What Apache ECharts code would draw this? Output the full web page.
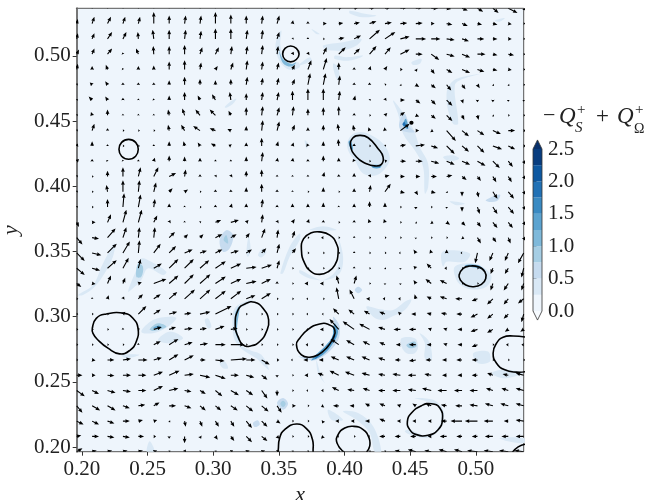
<!DOCTYPE html>
<html><head><meta charset="utf-8">
<style>html,body{margin:0;padding:0;background:#fff}#c{width:649px;height:500px}</style>
<script src="https://cdn.jsdelivr.net/npm/echarts@6/dist/echarts.min.js"></script>
</head><body><div id="c"></div>
<script>
const xDomain=[0.196,0.5365], yDomain=[0.1964,0.5365];
const xTicks=[0.20,0.25,0.30,0.35,0.40,0.45,0.50];
const yTicks=[0.20,0.25,0.30,0.35,0.40,0.45,0.50];
const cbarTicks=[0,0.5,1,1.5,2,2.5];
const cbarLevels=[0,0.25,0.5,0.75,1,1.25,1.5,1.75,2,2.25,2.5];
const bandColors=['#eef5fc','#d9e8f5','#c6dbef','#a6cee4','#7fb9da','#5ba3d0','#3a8ac2','#2171b5','#0d58a1','#083d7f'];
const underColor='#f7fbff', overColor='#08306b';
const quiverScale=1.15;

// velocity samples, row by row from the top: u,v pairs for 30 columns
const r00=[1,6, 1,6, 1,6, 1,6, 1,6, 0,7, 0,7, 1,7, 1,7, 0,8, 0,8, 0,7, 1,7, 2,7, 0,3, 2,3, 3,1, 3,1, 4,1, 5,1, 5,1, 6,1, 6,1, 6,0, 4,-.5, 5,-2, 5,-3, 5,-4, 8,-4, 3,-2];
const r01=[1,4, 2,6, 3,6, 2,6, 1.5,6, 0,10, 0,7, 1,7, 1,7, 0,10, 0,8, 0,7, 1,7, 2,7, .5,3, 0,2, 3,0, 4,.5, 5,1, 6,2, 6,1, 6,.5, 6,.5, 3,0, 5,-1, 5,-2, 4,-1, 4,-1, 3,-.5, 1,0];
const r02=[1,5, 2,5, 4,6, 3,6, -.5,6, -1,8, 0,8, 1,8, 1,7, 0,9, 0,9, 1,8, 1,8, 2,6, 1,1, 0,1, .5,0, 5,1, 6,3, 9,8, 9,6, 8,2, 9,0, 8,0, 7,-1, 6,-2, 6,0, 4,0, 3,0, 1,0];
const r03=[2,4, 2,5, 4,5, -.5,1.5, -2,5, -.5,7, 0,7, 0,8, 2,6, 3,6, 1,7, 1,7, 1,8, 1,7, 1,2, 1,2, 3,6, 6,6, 5,5, 6,7, 5,6, 8,4, 6,0, 7,-5, 7,-2, 7,-3, 7,0, 4,-1, 5,-1, 1,0];
const r04=[1,5, 0,3, -1.5,4, -.5,1, 0,3, 0,3.5, 0,7, 0,8, 1,6, 2,3, 2,6, 1,8, 1,7, 1.5,6, 2,4, 3,8, 3,10, 0,6, 0,2, 1,3, 2,3, 2,0, 1,-2, 3,-4, 5,-3, 7,-3, 6,-2, 4,-1, 3,-.5, 1,0];
const r05=[.5,.5, -2,2, -2,3, 0,2, 0,2, 0,2, 0,4, 0,7, 0,5, 0,4, 0,5, 1,7, 1,6, 1.5,6, 2,5, 2,10, 2,10, 1,8, 0,2, 0,2, 1,.5, 1,-1, 3,-2, 4,-3, 4,-5, 3,-4, 2,-3, .5,-.5, .5,-.5, .5,0];
const r06=[.5,.5, -3,3, -2,3, 0,2, 0,1, -.5,1, 0,4, 0,7, -2,4, -3,5, -1,7, 0,6, 1,7, 1.5,7, 0,8, 0,10, 0,10, 1,8, 1,4, 1,1, 1,2, 4,0, 4,-3, 4,-4, 5,-5, 1,-3, 0,-2, 0,-2, 0,-1.5, 0,-1];
const r07=[.5,.5, -1,3, 0,5, 0,1, 0,1, 0,1, -1,5, -2,6, -4,5, -5,5, -2,4, 0,7, 1,8, 2,7, 1,8, 0,6, 0,7, 0,8, 0,2, 1,0, 2,2, 4,3, 3,-1, 4,-3, 5,-5, 2,-4, 1,-4, 1,-1, 1,0, 1,0];
const r08=[.5,.5, 2,6, 0,2, .5,0, .5,0, .5,0, -1,5, -3,5, -6,4, -5,2, -3,1.5, 0,4, 1,9, 2,8, 2,5, 0,3, 0,5, -1,6, -1,5, -1,3, -.5,3, 8,6, 3,0, 2,-1, 8,-9, 6,-5, 6,-4, 7,-3, 6,0, 2,0];
const r09=[1,2, 0,4, 0,1, .5,0, .5,0, 0,1, 0,4, -1,4, -2,3, -4,2, -2,1, 0,3, 0,7, 1,4, 1,3, -1,2, 0,4, -.5,6, 0,2, .5,0, 1,1, 5,1, 8,1, 6,-2, 7,-7, 6,-5, 6,-6, 8,-3, 6,-3, 2,0];
const r10=[2,2, 0,2, -1,1, -.3,1, 0,1, 1,3, 0,5, 0,4, 0,3, 0,1, 0,1, 0,4, 1,8, .5,3, .5,3, 0,2, 0,5, 0,3, -1,2, .5,0, 2,.5, 5,0, 6,0, 7,-2, 7,-3, 7,-3, 7,-4, 6,-6, 4,-5, 2,-3];
const r11=[.5,.5, .5,0, 0,5, 0,8, 2,8, 4,8, 6,3, 1,6, 0,2, 1,1.5, 1,2, 0,5, 0,6, 0,1.5, 0,1, 0,1.5, 1,4, 0,2, 0,3, 1,2, 4,1, 4,0, 4,0, 5,0, 5,1, 4,-3, 3,-4, 3,-5, 3,-5, 2,-3];
const r12=[.5,.5, .5,0, -1,6, 0,10, 1,10, 2,8, 3,3, 3,2, .5,0, 0,2, 0,2, 0,4, 0,7, 0,2, 0,1, .5,0, 0,4, .5,0, 0,3, 1,6, 5,7, 4,-1, 2,-3, 4,-1, 1,-1, 0,-4, 1,-5, 4,-6, 5,-6, 2,-3];
const r13=[.5,.5, .5,0, 0,7, 1,12, 2,11, 1,7, 0,3, 0,1, .5,0, 0,2, 1,3, 0,3, 1,7, 0,2, 0,3, 0,3, 0,4, 0,1, 0,3, 0,5, 0,4, .5,0, 0,-2, .5,0, 0,-1, 0,-4, 2,-6, 4,-6, 5,-6, 2,-3];
const r14=[2,-4, 3,0, 3,7, 3,11, 3,11, 3,6, 1,2, 0,1, 1,1, 5,2, 7,2, 2,2, 1,7, 1,2, 2,3, 1,3, 0,2, .5,0, 0,2, -1,3, -1,3, .5,0, 1,-1, 2,-1, 3,-2, 3,-3, 3,-4, 4,-5, 4,-5, 2,-3];
const r15=[5,-6, 6,-1, 7,8, 3,9, 1,9, 1,9, 5,5, 3,3, 3,3, 6,3, 5,3, 3,4, 3,8, 1,7, 2,6, .5,0, -2,0, .5,0, 0,1, .5,0, .5,0, .5,0, 0,-1, .5,0, .5,0, 2,-1, 3,-5, 3,-4, 2,-5, 2,-3];
const r16=[7,-7, 8,-2, 8,8, 6,10, 1,11, 6,8, 6,6, 7,3, 6,2, 6,3, 7,2, 5,3, 4,4, 2,8, 3,4, .5,0, .5,0, .5,0, 0,.5, 1,0, .5,0, -1,0, -2,3, -1,3, 0,3, -1,0, -2,-9, -3,-7, -3,-7, -5,-9];
const r17=[7,-6, 7,-2, 8,7, 5,9, 2,8, 7,4, 8,8, 8,8, 8,7, 9,6, 9,4, 9,1, 9,3, 2,7, 1,0, .5,0, .5,0, .5,0, 0,1.5, 1,0, 1,-1, 0,-1, -2,2, -4,4, -2,0, .5,0, .5,0, -2,-5, -3,-5, -2,-8];
const r18=[4,-3, 3,-.5, 3,7, 2,5, 3,1, 11,4, 8,7, 8,8, 9,8, 9,6, 9,4, 9,2, 8,4, 0,2, 1,0, -3,0, -3,0, -2,7, 2,7, .5,0, 0,-1, 0,-1, -2,3, -5,4, -6,3, .5,0, .5,0, -2,-6, -4,-6, -2,-6];
const r19=[.5,0, 0,1, 1,3, 1,2, 4,4, 6,4, 7,6, 9,8, 9,8, 9,7, 9,7, 8,3, 8,5, .5,0, .5,0, -1,0, .5,0, -2,10, -4,8, -3,0, -2,0, -2,0, -1,4, -4,2, -6,2, -6,0, -5,-2, -5,-5, -4,-5, -5,-4];
const r20=[.5,0, 1,0, .5,0, 2,2, 7,7, 6,4, 7,2, 6,1, 9,2, 14,7, .5,0, .5,0, .5,0, .5,0, .5,0, -1,0, -1,0, -5,5, -5,4, -5,3, -5,2, -2,2, -4,0, -4,1, -5,1, -5,0, -6,-3, -5,-4, -4,-4, -2,-7];
const r21=[.5,0, .5,0, .5,0, 0,1, 1,1, 7,2, 6,2, 7,1, 6,1, 8,3, 6,1, .5,0, .5,0, .5,0, .5,0, -1,0, -3,0, -8,9, -10,7, -9,5, -6,2, -6,0, -6,0, -3,1, -3,1, -4,0, -6,-2, -5,-3, -3,-2, -3,-2];
const r22=[.5,0, .5,0, .5,0, .5,0, 0,.5, 6,3, 8,5, 7,2, 7,1, 9,0, 12,0, .5,0, .5,0, .5,0, .5,0, -2,0, -2,0, -7,5, -7,4, -6,3, -5,2, -4,0, -6,0, -4,0, -3,1, -4,0, -5,-2, .5,0, -2,0, -2,0];
const r23=[.5,0, 3,-.5, 6,0, 7,1, 8,0, 7,2, 8,5, 8,4, 5,0, 8,-1, 14,1, 8,0, 7,-4, 2,0, -1,0, -4,0, -4,0, -7,3, -7,3, -7,3, -6,2, -5,0, -6,-1, -5,0, -4,0, -5,0, -5,0, .5,0, .5,0, .5,0];
const r24=[5,0, 3,0, 6,-.5, 7,0, 7,0, 8,3, 9,4, 8,1, 9,-2, 9,-3, 7,0, 7,-2, 5,-4, 0,-2, 1,0, -3,0, -5,2, -8,4, -8,3, -7,2, -6,1, -7,1, -7,0, -6,1, -4,0, -4,0, -5,0, -5,2, -5,1, -7,2];
const r25=[7,-5, 6,-3, 7,-2, 7,-1, 7,0, 8,4, 8,2, 6,-1, 5,-3, 6,-5, 7,-4, 6,-4, 5,-7, 0,-5, .5,0, -1,0, -2,0, -6,3, -6,1, -6,2, -6,0, -7,0, -7,1, -8,2, -8,0, -7,0, -7,0, -6,2, -6,2, -7,2];
const r26=[5,-6, 7,-4, 7,-4, 6,-2, 6,1, 5,3, 6,0, 6,-2, 5,-4, 5,-4, 6,-4, 6,-5, 6,-5, 4,-6, 3,0, .5,0, -2,-1, -5,0, -4,0, -4,2, -5,2, -3,1, -3,2, -5,2, -5,1, -6,0, -7,1, -7,2, -7,2, -7,2];
const r27=[6,-3, 6,-3, 6,-2, 6,0, 4,1, 3,1, 1,-1, 1,-5, 2,-5, 3,-5, 3,-5, 5,-6, 5,-5, 3,-2, 1,0, .5,0, -1,-2, -3,0, -3,0, -4,0, -5,2, -3,0, -3,0, -3,0, -5,0, -10,0, -11,0, -8,0, -4,0, -7,1];
const r28=[4,1, 6,0, 6,-1, 6,-1, 5,0, 2,0, 0,-2, 0,-6, 1,-2, 2,-3, 3,-4, 5,-5, 5,-4, 2,-2, 1,0, .5,0, -2,-2, -1,0, .5,0, -1,0, -5,0, -5,0, -5,0, -3,0, -6,0, -5,0, -5,0, -7,0, -6,0, -7,0];
const r29=[5,3, 4,1, 4,1, 4,1, 4,1, 3,1, 1,1, 1,2, 1,1, 1,1, 2,1, 3,1, 3,1, 2,1, 1,1, 1,1, 1,1, 1,1, 1,1, 1,1, 1,1, -5,1, -7,2, -6,1, -7,2, -7,2, -9,1, -8,1, -8,1, -8,1];
const velocityRows=[r00,r01,r02,r03,r04,r05,r06,r07,r08,r09,r10,r11,r12,r13,r14,r15,r16,r17,r18,r19,r20,r21,r22,r23,r24,r25,r26,r27,r28,r29];

// Q-criterion zero contours: [closed, x values, y values]
const contourA=[1,[.2356,.2409,.2429,.2409,.2356,.2302,.2282,.2302],[.4360,.4337,.4283,.4230,.4207,.4230,.4283,.4337]];
const contourB=[1,[.3590,.3633,.3654,.3633,.3590,.3547,.3529,.3547],[.5076,.5058,.5015,.4972,.4954,.4972,.5015,.5058]];
const contourC=[1,[.4045,.4065,.4116,.4180,.4256,.4294,.4281,.4231,.4167,.4091],[.4314,.4372,.4390,.4372,.4288,.4224,.4168,.4156,.4173,.4224]];
const contourD=[1,[.3672,.3689,.3748,.3811,.3888,.3938,.3951,.3926,.3875,.3811,.3748,.3697],[.3510,.3599,.3643,.3650,.3625,.3561,.3485,.3395,.3344,.3324,.3344,.3408]];
const contourE=[1,[.4873,.4904,.4955,.5018,.5069,.5076,.5043,.4980,.4924,.4883],[.3319,.3370,.3388,.3382,.3344,.3293,.3247,.3229,.3242,.3280]];
const contourF=[1,[.3659,.3723,.3811,.3875,.3926,.3913,.3862,.3799,.3735,.3672,.3634],[.2834,.2903,.2944,.2941,.2898,.2834,.2758,.2707,.2689,.2707,.2783]];
const contourG=[1,[.3168,.3189,.3252,.3316,.3379,.3422,.3405,.3354,.3290,.3227,.3189],[.2923,.3051,.3102,.3110,.3064,.2975,.2885,.2809,.2776,.2783,.2847]];
const contourH=[1,[.2079,.2109,.2185,.2325,.2389,.2427,.2414,.2363,.2287,.2198,.2122,.2084],[.2911,.2987,.3020,.3025,.2987,.2911,.2809,.2740,.2714,.2758,.2821,.2872]];
const contourI=[1,[.4479,.4510,.4586,.4662,.4726,.4746,.4713,.4637,.4548,.4497],[.2197,.2261,.2317,.2332,.2299,.2210,.2133,.2090,.2095,.2133]];
const contourJ=[0,[.3480,.3494,.3506,.3544,.3633,.3710,.3756,.3761,.3765],[.1900,.1967,.2069,.2133,.2176,.2141,.2057,.1960,.1900]];
const contourK=[0,[.3997,.3943,.3951,.4002,.4065,.4142,.4187,.4192,.4167],[.1960,.2031,.2095,.2146,.2159,.2133,.2069,.2006,.1960]];
const contourL=[0,[.5386,.5285,.5208,.5158,.5132,.5158,.5221,.5310,.5386],[.2842,.2852,.2842,.2796,.2720,.2643,.2592,.2574,.2579]];
const contourM=[0,[.5272,.5323,.5386],[.1950,.2001,.2023]];
const contourN=[1,[.4510,.4520,.4510,.4500],[.4497,.4487,.4477,.4487]];
const contours=[contourA,contourB,contourC,contourD,contourE,contourF,contourG,contourH,contourI,contourJ,contourK,contourL,contourM,contourN];

// filled regions of -Q_S+Q_Omega: [band index, x values, y values]
const patches=[
[1,[.3476,.3486,.3519,.3511,.3532,.3582,.3646,.3659,.3582,.3519],[.5041,.5143,.5194,.5092,.5002,.4939,.4951,.4913,.4893,.4939]],
[4,[.3501,.3532,.3595,.3633,.3595,.3532],[.5041,.4977,.4939,.4951,.4918,.4944]],
[1,[.3087,.3125,.3176,.3151,.3100],[.4607,.4645,.4671,.4633,.4602]],
[1,[.4040,.4167,.4243,.4142,.4040],[.5347,.5321,.5308,.5296,.5326]],
[1,[.3748,.3811,.3786],[.5206,.5168,.5168]],
[1,[.3837,.3989,.4129,.4091,.3989,.3913,.3850],[.5079,.5104,.5130,.5079,.5041,.5041,.5053]],
[1,[.3926,.4015,.4142,.4040,.3926],[.5002,.4990,.5002,.4964,.4977]],
[1,[.3913,.3951,.3959,.3933],[.4939,.4913,.4811,.4837]],
[1,[.3659,.3735,.3748,.3659],[.4939,.4990,.4964,.4926]],
[1,[.4510,.4586,.4573,.4523],[.4951,.4977,.4939,.4931]],
[1,[.4789,.4853,.5031,.4904,.4840,.4866,.4827,.4789,.4777],[.4760,.4824,.4862,.4824,.4773,.4480,.4480,.4582,.4683]],
[1,[.4370,.4434,.4523,.4573,.4637,.4637,.4612,.4599,.4535,.4446,.4408],[.4658,.4582,.4441,.4301,.4173,.3995,.3944,.4148,.4276,.4403,.4556]],
[2,[.4421,.4459,.4497,.4535,.4472,.4421],[.4505,.4556,.4454,.4416,.4416,.4441]],
[5,[.4446,.4467,.4485],[.4467,.4518,.4441]],
[7,[.4441,.4457,.4467],[.4474,.4492,.4459]],
[1,[.4751,.4827,.4873,.4802],[.4224,.4237,.4212,.4191]],
[1,[.4802,.4916,.4853],[.3885,.3868,.3855]],
[2,[.5076,.5183,.5170,.5107],[.3893,.3936,.3893,.3880]],
[1,[.5145,.5221,.5183],[.5270,.5290,.5262]],
[1,[.4027,.4078,.4167,.4294,.4345,.4319,.4243,.4142,.4078,.4027],[.4352,.4408,.4408,.4326,.4224,.4148,.4084,.4097,.4199,.4276]],
[5,[.4030,.4045,.4065,.4053],[.4339,.4352,.4288,.4276]],
[5,[.4205,.4281,.4269,.4218],[.4161,.4161,.4140,.4140]],
[1,[.3697,.3723,.3710],[.4352,.4326,.4288]],
[1,[.3735,.3837,.3938],[.3664,.3694,.3664]],
[1,[.1970,.2084,.2160,.2249,.2236,.2173,.2097,.2008],[.3166,.3242,.3408,.3561,.3459,.3332,.3230,.3166]],
[1,[.2351,.2414,.2452,.2528,.2643,.2617,.2503,.2452,.2389],[.3191,.3357,.3446,.3421,.3344,.3319,.3370,.3281,.3217]],
[3,[.2414,.2427,.2465,.2452],[.3306,.3408,.3383,.3306]],
[1,[.2452,.2541,.2668,.2719,.2655,.2541],[.2885,.2975,.3000,.2987,.2923,.2873]],
[3,[.2516,.2579,.2643,.2541],[.2903,.2949,.2923,.2890]],
[5,[.2541,.2579,.2605],[.2911,.2931,.2918]],
[1,[.2579,.2668,.2770,.2668],[.2821,.2885,.2834,.2796]],
[2,[.3049,.3100,.3151,.3125,.3074],[.3587,.3663,.3625,.3523,.3497]],
[3,[.3079,.3100,.3113],[.3587,.3625,.3561]],
[1,[.3252,.3270,.3285,.3265],[.3485,.3612,.3510,.3459]],
[1,[.3341,.3379,.3405,.3367],[.3472,.3523,.3497,.3454]],
[1,[.3511,.3582,.3659,.3659,.3582,.3532],[.3332,.3536,.3638,.3587,.3459,.3332]],
[1,[.2935,.2960,.2986,.2960],[.2975,.2987,.2923,.2911]],
[1,[.3163,.3240,.3303,.3252,.3189,.3176,.3214,.3278,.3367,.3425,.3392,.3328,.3227,.3163,.3146],[.3064,.3115,.3128,.3089,.3051,.2898,.2783,.2745,.2707,.2592,.2617,.2681,.2745,.2821,.2949]],
[4,[.3168,.3201,.3181,.3201,.3171],[.3026,.3077,.2898,.2809,.2873]],
[1,[.2300,.2439,.2338],[.2707,.2707,.2681]],
[1,[.3049,.3087,.3113,.3074],[.2643,.2656,.2605,.2605]],
[2,[.3486,.3532,.3570,.3532],[.2337,.2375,.2332,.2286]],
[3,[.3511,.3532,.3552,.3532],[.2332,.2355,.2332,.2306]],
[2,[.3303,.3341,.3354,.3316],[.2184,.2204,.2171,.2153]],
[1,[.2495,.2516,.2554],[.1960,.2044,.1960]],
[1,[.3659,.3735,.3837,.3938,.3964,.3951,.3989,.3964,.3862,.3735,.3659],[.3357,.3319,.3281,.3357,.3497,.3612,.3459,.3332,.3281,.3293,.3332]],
[2,[.4078,.4104,.4134,.4104],[.3204,.3230,.3204,.3179]],
[1,[.4167,.4269,.4370,.4472,.4510,.4459,.4370,.4294,.4218],[.3077,.3056,.3051,.3122,.3128,.3051,.3005,.2975,.3000]],
[1,[.4434,.4535,.4561,.4535,.4472,.4434],[.2834,.2834,.2771,.2720,.2720,.2771]],
[3,[.4472,.4535,.4548,.4497],[.2783,.2809,.2771,.2758]],
[1,[.4573,.4637,.4662,.4662,.4612,.4612],[.2873,.2821,.2745,.2668,.2681,.2796]],
[1,[.4738,.4789,.4955,.4916,.4777,.4751],[.3485,.3510,.3485,.3421,.3421,.3383]],
[1,[.4840,.4980,.5069,.5120,.5081,.4980,.4904,.4853],[.3383,.3408,.3370,.3306,.3230,.3209,.3230,.3281]],
[5,[.4916,.5018,.5069,.5031,.4955],[.3395,.3395,.3357,.3370,.3383]],
[1,[.4980,.5094,.5107,.5018],[.2720,.2732,.2656,.2643]],
[1,[.4535,.4675,.4751,.4751,.4700,.4624,.4497,.4459,.4497,.4624,.4713,.4738,.4713,.4624],[.2375,.2362,.2286,.2184,.2108,.2069,.2095,.2120,.2133,.2087,.2146,.2235,.2311,.2350]],
[1,[.3875,.3989,.3900],[.2286,.2210,.2210]],
[1,[.3989,.4104,.4218,.4281,.4231,.4192,.4091],[.2273,.2261,.2159,.1960,.1960,.2108,.2210]],
[1,[.5120,.5208,.5361,.5234,.5158],[.2567,.2592,.2567,.2528,.2541]],
[1,[.5183,.5366,.5366,.5246],[.2069,.2069,.2031,.2044]],
[2,[.3646,.3786,.3938,.3964,.3913,.3926,.3913,.3837,.3761],[.2694,.2668,.2796,.2923,.3000,.2923,.2847,.2745,.2694]],
[5,[.3926,.3951,.3913,.3837,.3748,.3773,.3850,.3908,.3913],[.2949,.2885,.2796,.2707,.2663,.2699,.2771,.2847,.2911]],
[7,[.3900,.3921,.3931,.3900],[.2821,.2873,.2847,.2796]],
[7,[.3773,.3837,.3786],[.2681,.2732,.2681]],
[1,[.3786,.3824,.3850,.3799],[.2668,.2541,.2490,.2566]]
];

const SERIF='"Liberation Serif","DejaVu Serif",serif';
const TXT='#222';
const nCols=30,nRows=30;
const arrowData=[];
velocityRows.forEach((row,r)=>{
  for(let c=0;c<nCols;c++){
    const x=xDomain[0]+c*(xDomain[1]-xDomain[0])/(nCols-1);
    const y=yDomain[1]-r*(yDomain[1]-yDomain[0])/(nRows-1);
    arrowData.push([x,y,row[2*c],row[2*c+1]]);
  }
});

function renderArrow(p,api){
  const t=api.coord([api.value(0),api.value(1)]);
  const u=api.value(2)*quiverScale,v=api.value(3)*quiverScale;
  let L=Math.hypot(u,v);
  const ca=u/L, sa=-v/L;
  L=Math.max(L,1.6);
  const hl=Math.min(4.2,L), hw=1.9*Math.min(1,L/3.5+0.25), w=0.55;
  const local=[[0,-w],[L-hl,-w],[L-hl*1.08,-hw],[L,0],[L-hl*1.08,hw],[L-hl,w],[0,w]];
  return {type:'polygon',silent:true,
    shape:{points:local.map(q=>[t[0]+q[0]*ca-q[1]*sa,t[1]+q[0]*sa+q[1]*ca])},
    style:{fill:'#000'}};
}
function renderPatch(p,api){
  const b=patches[api.value(0)];
  return {type:'polygon',silent:true,
    shape:{points:b[1].map((x,i)=>api.coord([x,b[2][i]])),smooth:0.35},
    style:{fill:bandColors[b[0]]}};
}
function renderContour(p,api){
  const b=contours[api.value(0)];
  const tiny=Math.max(...b[1])-Math.min(...b[1])<0.004;
  return {type:b[0]?'polygon':'polyline',silent:true,
    shape:{points:b[1].map((x,i)=>api.coord([x,b[2][i]])),smooth:0.5},
    style:{fill:tiny?'#000':'none',stroke:'#000',lineWidth:1.6}};
}
function renderBand(p,api){
  const i=api.value(0);
  const a=api.coord([0,cbarLevels[i+1]]),b=api.coord([1,cbarLevels[i]]);
  return {type:'rect',silent:true,shape:{x:a[0],y:a[1],width:b[0]-a[0],height:b[1]-a[1]},style:{fill:bandColors[i]}};
}
const cbarExt=0.14;
function renderEnds(p,api){
  const lo=cbarLevels[0],hi=cbarLevels[cbarLevels.length-1];
  const c=(x,y)=>api.coord([x,y]);
  return {type:'group',silent:true,children:[
    {type:'polygon',shape:{points:[c(0,hi),c(.5,hi+cbarExt),c(1,hi)]},style:{fill:overColor}},
    {type:'polygon',shape:{points:[c(0,lo),c(.5,lo-cbarExt),c(1,lo)]},style:{fill:underColor}},
    {type:'polygon',shape:{points:[c(0,lo),c(.5,lo-cbarExt),c(1,lo),c(1,hi),c(.5,hi+cbarExt),c(0,hi)]},style:{fill:'none',stroke:'#333',lineWidth:0.8}}
  ]};
}
const mathFont=s=>'italic '+s+'px '+SERIF;
const romanFont=s=>s+'px '+SERIF;
const titleParts=[
 ['\u2212',543,127,romanFont(22)],['Q',559,128,mathFont(23)],['+',577,118,romanFont(15)],['S',575,136,mathFont(15)],
 ['+',596,128,romanFont(23)],['Q',617,128,mathFont(23)],['+',635,118,romanFont(15)],['\u03A9',634,136,romanFont(14)]
];
const chart=echarts.init(document.getElementById('c'),null,{renderer:'canvas'});
chart.setOption({
  animation:false,backgroundColor:'#fff',
  grid:[
    {outerBoundsMode:'none',left:76.7,top:8.3,width:447,height:443.4,show:true,backgroundColor:bandColors[0],borderColor:'#555',borderWidth:1},
    {outerBoundsMode:'none',left:533,top:149,width:9,height:162,show:false}
  ],
  xAxis:[
    {type:'value',gridIndex:0,min:xDomain[0],max:xDomain[1],splitLine:{show:false},axisLine:{show:false},
     axisTick:{show:true,length:4,customValues:xTicks,lineStyle:{color:'#333',width:1}},
     axisLabel:{customValues:xTicks,margin:7,fontFamily:SERIF,fontSize:21,color:TXT,formatter:v=>v.toFixed(2)},
     name:'x',nameLocation:'middle',nameGap:33,nameTextStyle:{fontFamily:SERIF,fontStyle:'italic',fontSize:22,color:TXT}},
    {type:'value',gridIndex:1,min:0,max:1,show:false}
  ],
  yAxis:[
    {type:'value',gridIndex:0,min:yDomain[0],max:yDomain[1],splitLine:{show:false},
     axisLine:{show:true,onZero:false,lineStyle:{color:'#777',width:2}},
     axisTick:{show:true,length:4,customValues:yTicks,lineStyle:{color:'#333',width:1}},
     axisLabel:{customValues:yTicks,margin:6,fontFamily:SERIF,fontSize:21,color:TXT,formatter:v=>v.toFixed(2)},
     name:'y',nameLocation:'middle',nameGap:54,nameRotate:90,nameTextStyle:{fontFamily:SERIF,fontStyle:'italic',fontSize:22,color:TXT}},
    {type:'value',gridIndex:1,min:0,max:2.5,position:'right',splitLine:{show:false},axisLine:{show:false},
     axisTick:{show:true,length:3.5,customValues:cbarTicks,lineStyle:{color:'#333',width:1}},
     axisLabel:{customValues:cbarTicks,margin:6,fontFamily:SERIF,fontSize:21,color:TXT,formatter:v=>v.toFixed(1)}}
  ],
  series:[
    {type:'custom',xAxisIndex:0,yAxisIndex:0,clip:true,z:2,renderItem:renderPatch,data:patches.map((b,i)=>[i]),encode:{x:[],y:[]}},
    {type:'custom',xAxisIndex:0,yAxisIndex:0,clip:true,z:3,renderItem:renderArrow,data:arrowData,encode:{x:0,y:1}},
    {type:'custom',xAxisIndex:0,yAxisIndex:0,clip:true,z:4,renderItem:renderContour,data:contours.map((b,i)=>[i]),encode:{x:[],y:[]}},
    {type:'custom',xAxisIndex:1,yAxisIndex:1,z:2,renderItem:renderBand,data:bandColors.map((b,i)=>[i]),encode:{x:[],y:[]}},
    {type:'custom',xAxisIndex:1,yAxisIndex:1,z:3,renderItem:renderEnds,data:[[0]],encode:{x:[],y:[]}}
  ],
  graphic:{elements:titleParts.map(t=>({type:'text',x:t[1],y:t[2],silent:true,
     style:{text:t[0],font:t[3],fill:TXT,verticalAlign:'bottom'}}))}
});
</script></body></html>
